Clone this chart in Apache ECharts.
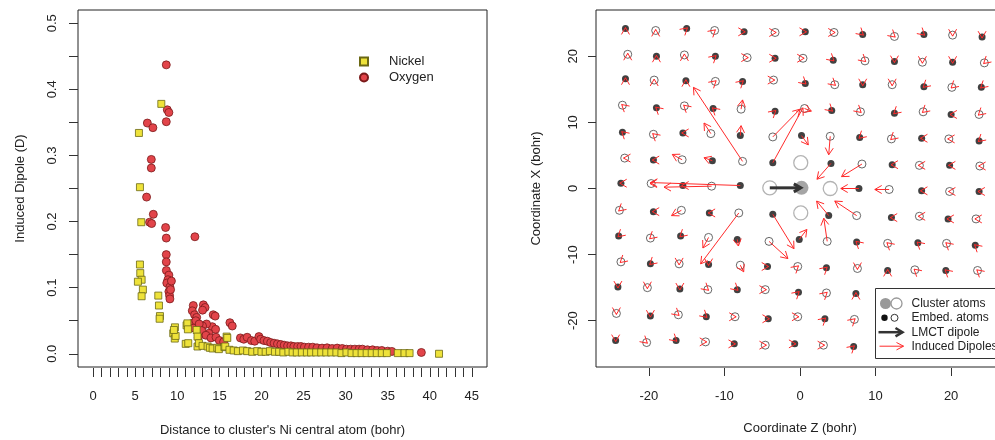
<!DOCTYPE html>
<html><head><meta charset="utf-8">
<script src="https://cdn.jsdelivr.net/npm/echarts@6/dist/echarts.min.js"></script>
<style>html,body{margin:0;padding:0;background:#fff}#c{width:995px;height:440px}</style>
</head><body><div id="c"></div>
<script>
// ---------- LEFT PANEL DATA: [distance (bohr), induced dipole (D)] ----------
var nickel = [
[5.44,0.334],[8.10,0.378],[5.56,0.252],[5.72,0.199],[5.56,0.135],[5.60,0.122],[5.76,0.112],[5.32,0.109],[5.91,0.097],[5.76,0.087],
[7.74,0.088],[7.82,0.073],[7.94,0.057],[7.90,0.053],
[9.72,0.040],[9.52,0.031],[9.70,0.023],[9.80,0.027],[9.60,0.036],
[11.10,0.043],[11.20,0.046],[11.26,0.037],[12.30,0.036],[12.40,0.026],[11.00,0.015],[11.30,0.016],[12.40,0.011],[12.57,0.016],
[13.0,0.012],[13.6,0.011],[13.87,0.009],[14.2,0.008],[14.75,0.009],[14.94,0.007],[15.6,0.010],[15.7,0.011],[15.86,0.026],[15.94,0.024],[16.2,0.006],[16.7,0.005],
[17.2,0.004],[17.8,0.005],[18.3,0.004],[18.9,0.003],[19.5,0.004],[20.0,0.003],[20.5,0.003],[21.0,0.004],[21.6,0.003],[22.1,0.003],
[22.6,0.002],[23.2,0.003],[23.7,0.002],[24.2,0.002],[24.8,0.002],[25.4,0.002],[25.9,0.002],[26.5,0.002],[27.1,0.002],[27.7,0.002],
[28.3,0.002],[28.9,0.002],[29.5,0.001],[30.1,0.002],[30.7,0.001],[31.3,0.001],[31.9,0.001],[32.5,0.001],[33.1,0.001],[33.7,0.001],
[34.3,0.001],[34.9,0.001],[36.2,0.001],[37.0,0.001],[37.6,0.001],[41.1,0.0]
];
var oxygen = [
[8.69,0.437],[8.81,0.369],[9.00,0.365],[8.69,0.351],[6.44,0.349],[7.10,0.342],[6.91,0.294],[6.91,0.281],[6.35,0.237],[7.15,0.211],
[6.71,0.199],[6.95,0.197],[8.61,0.191],[8.69,0.175],[12.09,0.177],[8.69,0.150],[8.69,0.139],[8.70,0.126],[9.00,0.119],[8.88,0.112],
[8.75,0.107],[9.12,0.101],[9.00,0.094],[9.08,0.088],[9.12,0.083],[9.20,0.097],[9.30,0.110],
[11.90,0.073],[13.10,0.074],[13.30,0.070],[11.78,0.065],[13.00,0.066],[12.05,0.059],[12.30,0.055],[14.27,0.059],[14.50,0.057],
[16.25,0.047],[16.53,0.042],[14.15,0.041],[13.48,0.045],[14.55,0.037],[13.00,0.042],[13.75,0.031],[11.78,0.046],[11.97,0.039],
[12.20,0.050],[12.60,0.045],[12.90,0.035],[13.40,0.028],[14.00,0.024],[14.60,0.025],[15.00,0.020],[15.50,0.018],[12.50,0.025],
[17.5,0.024],[17.9,0.022],[18.3,0.025],[18.8,0.020],[19.2,0.019],[19.7,0.026],[19.9,0.022],[20.3,0.020],[20.7,0.019],[21.1,0.017],
[21.5,0.016],[21.9,0.015],[22.3,0.014],[22.7,0.013],[23.1,0.012],[23.5,0.012],[23.85,0.011],[24.3,0.011],[24.7,0.011],[25.1,0.010],
[25.6,0.010],[26.1,0.010],[26.6,0.009],[27.2,0.0086],[27.8,0.009],[28.4,0.008],[29.0,0.0086],[29.6,0.008],[30.1,0.007],[30.6,0.007],
[31.1,0.007],[31.6,0.007],[32.0,0.007],[32.6,0.006],[33.2,0.006],[33.75,0.005],[34.3,0.005],[35.0,0.004],[35.5,0.0035],[39.0,0.002]
];
var xTickLabelsLeft = [0,5,10,15,20,25,30,35,40,45];

// ---------- RIGHT PANEL DATA ----------
// embedded atoms: [Z, X, kind (1 = filled, 0 = open), dipole dZ, dipole dX]  (bohr)
var embedAtoms = [
[-23.1,24.2,1,0,0.15],[-19.1,23.9,0,0,0.15],[-15.0,24.2,1,0.1,0.1],[-11.3,23.9,0,0.1,0.1],[-7.4,23.7,1,0.15,0],[-3.3,23.6,0,0.15,0],[0.7,23.7,1,0.15,0],[4.5,23.6,0,0.15,0],[8.3,23.3,1,0.1,-0.1],[12.5,23.0,0,0.1,-0.1],[16.4,23.3,1,0.1,-0.1],[20.2,23.2,0,0,-0.15],[24.1,22.9,1,0,-0.15],
[-22.8,20.3,0,0,0.15],[-19.0,20.0,1,0,0.15],[-15.3,20.2,0,0,0.15],[-11.2,20.0,1,0.1,0.1],[-7.0,19.8,0,0.15,0],[-3.3,19.7,1,0.15,0],[0.4,19.7,0,0.15,0],[4.4,19.4,1,0.1,-0.1],[8.6,19.3,0,0.1,-0.1],[12.5,19.2,1,0,-0.15],[16.2,19.1,0,0,-0.15],[20.2,19.1,1,0,-0.15],[24.4,19.0,0,-0.1,-0.1],
[-23.1,16.6,1,0,0.15],[-19.3,16.4,0,0,0.15],[-15.1,16.3,1,0,0.15],[-11.2,16.2,0,0.1,0.1],[-7.6,16.2,1,0.1,0.1],[-3.5,16.4,0,0.15,0],[0.7,15.9,1,0.1,-0.1],[4.6,15.7,0,0.1,-0.1],[8.3,15.7,1,0,-0.15],[12.2,15.7,0,0,-0.15],[16.4,15.4,1,-0.1,-0.1],[20.1,15.3,0,-0.1,-0.1],[24.0,15.3,1,-0.1,-0.1],
[-23.5,12.6,0,-0.1,0.1],[-19.0,12.2,1,-0.1,0.1],[-15.3,12.5,0,-0.1,0.1],[-11.5,12.1,1,-0.1,0.1],[-7.8,12.0,0,0.2,1.4],[-3.3,11.7,1,0.1,0.1],[0.6,12.1,0,0.9,-0.4],[4.2,11.8,1,0.1,-0.1],[8.0,11.6,0,0.1,-0.1],[12.5,11.4,1,-0.1,-0.1],[16.3,11.6,0,-0.1,-0.1],[20.0,11.2,1,-0.15,0],[23.7,11.2,0,-0.1,-0.1],
[-23.5,8.5,1,-0.1,0.1],[-19.4,8.2,0,-0.1,0.1],[-15.5,8.4,1,-0.15,0],[-11.8,8.3,0,-0.9,1.6],[-7.9,8.0,1,0.1,1.5],[-3.6,7.8,0,3.6,4.2],[0.2,8.0,1,0.9,-1.4],[4.0,7.9,0,-0.2,-2.8],[7.9,7.7,1,-0.1,-0.1],[12.1,7.5,0,-0.1,-0.1],[16.1,7.6,1,-0.15,0],[19.7,7.5,0,-0.15,0],[23.7,7.2,1,-0.1,-0.1],
[-23.2,4.6,0,-0.15,0],[-19.4,4.3,1,-0.15,0],[-15.6,4.35,0,-1.3,0.8],[-11.6,4.2,1,-1.1,0.45],[-7.6,4.1,0,-6.5,11.2],[-3.6,3.9,1,4.0,8.3],[4.1,3.8,1,-1.85,-2.4],[8.2,3.7,0,-2.7,-1.9],[12.2,3.6,1,-0.15,0],[15.8,3.5,0,-0.15,0],[19.8,3.5,1,-0.15,0],[23.8,3.4,0,-0.15,0],
[-23.7,0.8,1,-0.15,0],[-19.7,0.75,0,-0.15,0],[-15.5,0.45,1,-0.15,0],[-11.7,0.35,0,-6.3,-0.15],[-7.9,0.45,1,-11.9,0.45],[7.8,0,1,-2.4,0],[11.8,-0.15,0,-1.9,0],[16.1,-0.35,1,-0.15,0],[19.8,-0.45,0,-0.15,0],[23.7,-0.45,1,-0.15,0],
[-23.9,-3.3,0,-0.1,-0.1],[-19.4,-3.5,1,-0.15,0],[-15.7,-3.3,0,-1.3,-0.8],[-12.0,-3.7,1,-0.15,0],[-8.1,-3.7,0,-5.05,-7.7],[-3.6,-3.9,1,2.8,-5.2],[3.8,-4.1,1,-1.6,2.2],[7.5,-4.1,0,-2.9,2.2],[12.1,-4.4,1,-0.15,0],[15.8,-4.2,0,-0.15,0],[19.6,-4.6,1,-0.15,0],[23.3,-4.6,0,-0.15,0],
[-24.0,-7.2,1,-0.1,-0.1],[-19.8,-7.5,0,-0.1,-0.1],[-15.8,-7.2,1,-0.1,-0.1],[-12.1,-7.4,0,-0.75,-1.6],[-8.3,-7.7,1,0.15,-1.0],[-4.1,-8.0,0,2.5,-2.6],[-0.1,-7.7,1,1.0,1.5],[3.6,-8.0,0,-0.45,3.5],[7.5,-8.1,1,-0.1,0.1],[11.6,-8.3,0,-0.1,0.1],[15.6,-8.2,1,-0.1,0.1],[19.4,-8.3,0,-0.1,0.1],[23.2,-8.6,1,-0.1,0.1],
[-23.7,-11.1,0,-0.1,-0.1],[-19.8,-11.4,1,-0.1,-0.1],[-16.0,-11.4,0,0,-0.15],[-12.1,-11.5,1,0,-0.15],[-7.9,-11.6,0,0.45,-1.0],[-4.3,-11.8,1,0.15,0],[-0.3,-11.8,0,0.1,0.1],[3.5,-12.0,1,0.1,0.1],[7.6,-12.1,0,0,-0.15],[11.6,-12.4,1,0,0.15],[15.2,-12.3,0,-0.1,0.1],[19.3,-12.4,1,-0.1,0.1],[23.5,-12.4,0,-0.1,0.1],
[-24.1,-14.9,1,0,-0.15],[-20.2,-15.0,0,0,-0.15],[-15.9,-15.2,1,0,-0.15],[-12.2,-15.3,0,0.1,-0.1],[-8.3,-15.3,1,0.1,-0.1],[-4.6,-15.3,0,0.15,0],[-0.2,-15.7,1,0.1,0.1],[3.5,-15.8,0,0.1,0.1],[7.4,-15.9,1,0,0.15],
[-24.3,-18.9,0,0,-0.15],[-19.8,-19.3,1,0,-0.15],[-16.1,-19.1,0,0.1,-0.1],[-12.4,-19.4,1,0.1,-0.1],[-8.6,-19.4,0,0.15,0],[-4.2,-19.7,1,0.15,0],[-0.3,-19.4,0,0.15,0],[3.3,-19.7,1,0.1,0.1],[7.2,-19.8,0,0.1,0.1],
[-24.4,-23.0,1,0,-0.15],[-20.3,-23.3,0,0.1,-0.1],[-16.4,-23.0,1,0.1,-0.1],[-12.5,-23.2,0,0.15,0],[-8.7,-23.5,1,0.15,0],[-4.6,-23.7,0,0.15,0],[-0.7,-23.5,1,0.15,0],[3.1,-23.7,0,0.15,0],[7.1,-23.9,1,0.1,0.1]
];
var clusterNi = [[0.2,0.1]];
var clusterO = [[-4.0,0.1],[4.0,0.0],[0.1,3.9],[0.1,-3.7]];
var lmctDipole = [[-4.0,0.1,4.1,0]];   // [Z, X, dZ, dX]
var rightTicks = [-20,-10,0,10,20];

// ---------- derived ----------
var embedFilled = embedAtoms.filter(function(a){return a[2]===1;}).map(function(a){return [a[0],a[1]];});
var embedOpen = embedAtoms.filter(function(a){return a[2]===0;}).map(function(a){return [a[0],a[1]];});
var inducedDipoles = embedAtoms.map(function(a){return [a[0],a[1],a[3],a[4]];});

// ---------- layout ----------
var FONT = '"Liberation Sans", Arial, Helvetica, sans-serif';
var TXT = '#222';
var frameL = {left:78, top:10, width:409, height:357};
var frameR = {left:596, top:10, width:408, height:357};
var fLx = [-1.8, 46.8], fLy = [-0.02, 0.52];
var fRx = [-27, 27], fRy = [-27, 27];
function inner(frame, fx, fy, ix, iy) {
  var sx = frame.width/(fx[1]-fx[0]), sy = frame.height/(fy[1]-fy[0]);
  return {left: frame.left + (ix[0]-fx[0])*sx, width:(ix[1]-ix[0])*sx,
          top: frame.top + (fy[1]-iy[1])*sy, height:(iy[1]-iy[0])*sy,
          offX: (iy[0]-fy[0])*sy + 1, offY: (ix[0]-fx[0])*sx};
}
var inL = inner(frameL, fLx, fLy, [xTickLabelsLeft[0], xTickLabelsLeft[xTickLabelsLeft.length-1]], [0, 0.5]);
var inR = inner(frameR, fRx, fRy, [rightTicks[0], rightTicks[rightTicks.length-1]], [rightTicks[0], rightTicks[rightTicks.length-1]]);

function grid(g, show) {
  return {left:g.left, top:g.top, width:g.width, height:g.height, show:show,
    borderColor:'#222', borderWidth:1, backgroundColor:'transparent', containLabel:false, outerBoundsMode:'none'};
}
function hiddenAxis(gi, r) { return {gridIndex:gi, type:'value', min:r[0], max:r[1], show:false}; }
var tickStyle = {color:'#333', width:1};
var ghostLine = {show:true, onZero:false, lineStyle:{color:'rgba(0,0,0,0)', width:0}};
function arrowRenderer(color, width, head) {
  return function (params, api) {
    var p0 = api.coord([api.value(0), api.value(1)]);
    var p1 = api.coord([api.value(0) + api.value(2), api.value(1) + api.value(3)]);
    var ang = Math.atan2(p1[1]-p0[1], p1[0]-p0[0]);
    var a = Math.PI/6;
    var h1 = [p1[0]-head*Math.cos(ang-a), p1[1]-head*Math.sin(ang-a)];
    var h2 = [p1[0]-head*Math.cos(ang+a), p1[1]-head*Math.sin(ang+a)];
    return {type:'group', children:[
      {type:'line', shape:{x1:p0[0],y1:p0[1],x2:p1[0],y2:p1[1]}, style:{stroke:color, lineWidth:width}},
      {type:'polyline', shape:{points:[h1,p1,h2]}, style:{stroke:color, lineWidth:width, fill:null}}
    ]};
  };
}

var chart = echarts.init(document.getElementById('c'), null, {renderer:'canvas'});
chart.setOption({
  animation:false,
  backgroundColor:'#fff',
  textStyle:{fontFamily:FONT},
  grid:[grid(frameL,true), grid(inL,false), grid(frameR,true), grid(inR,false)],
  xAxis:[
    hiddenAxis(0, fLx),
    {gridIndex:1, type:'value', min:0, max:45, interval:5, position:'bottom', offset:inL.offX,
     axisLine:ghostLine, axisTick:{show:true, length:9, lineStyle:tickStyle},
     minorTick:{show:true, splitNumber:5, length:9, lineStyle:tickStyle},
     splitLine:{show:false}, minorSplitLine:{show:false},
     axisLabel:{margin:22, fontSize:13, color:TXT, fontFamily:FONT},
     name:"Distance to cluster's Ni central atom (bohr)", nameLocation:'middle', nameGap:56,
     nameTextStyle:{fontSize:13, color:TXT, fontFamily:FONT}},
    hiddenAxis(2, fRx),
    {gridIndex:3, type:'value', min:-20, max:20, interval:10, position:'bottom', offset:inR.offX,
     axisLine:ghostLine, axisTick:{show:true, length:8, lineStyle:tickStyle},
     splitLine:{show:false},
     axisLabel:{margin:22, fontSize:13, color:TXT, fontFamily:FONT},
     name:'Coordinate Z (bohr)', nameLocation:'middle', nameGap:54,
     nameTextStyle:{fontSize:13, color:TXT, fontFamily:FONT}}
  ],
  yAxis:[
    hiddenAxis(0, fLy),
    {gridIndex:1, type:'value', min:0, max:0.5, interval:0.1, position:'left', offset:inL.offY,
     axisLine:ghostLine, axisTick:{show:true, length:9, lineStyle:tickStyle},
     minorTick:{show:true, splitNumber:2, length:9, lineStyle:tickStyle},
     splitLine:{show:false}, minorSplitLine:{show:false},
     axisLabel:{rotate:90, margin:19, fontSize:13, color:TXT, fontFamily:FONT,
       formatter:function(v){return v.toFixed(1);}},
     name:'Induced Dipole (D)', nameLocation:'middle', nameGap:51,
     nameTextStyle:{fontSize:13, color:TXT, fontFamily:FONT}},
    hiddenAxis(2, fRy),
    {gridIndex:3, type:'value', min:-20, max:20, interval:10, position:'left', offset:inR.offY,
     axisLine:ghostLine, axisTick:{show:true, length:8, lineStyle:tickStyle},
     splitLine:{show:false},
     axisLabel:{rotate:90, margin:16, fontSize:13, color:TXT, fontFamily:FONT},
     name:'Coordinate X (bohr)', nameLocation:'middle', nameGap:53,
     nameTextStyle:{fontSize:13, color:TXT, fontFamily:FONT}}
  ],
  legend:{data:['Nickel','Oxygen'], orient:'vertical', left:354, top:50, itemWidth:8, itemHeight:8, itemGap:3,
    selectedMode:false, textStyle:{fontSize:13, color:TXT, fontFamily:FONT, padding:[0,0,0,16]}},
  graphic:[{type:'group', left:875, top:288, z:100, children:[
    {type:'rect', shape:{x:0,y:0,width:140,height:70}, style:{fill:'#fff', stroke:'#333', lineWidth:1}},
    {type:'circle', shape:{cx:10,cy:15,r:5.5}, style:{fill:'#999'}},
    {type:'circle', shape:{cx:21,cy:15,r:5.5}, style:{fill:'#fff', stroke:'#999', lineWidth:1.3}},
    {type:'text', x:36, y:15, style:{text:'Cluster atoms', font:'12px '+FONT, fill:TXT, verticalAlign:'middle'}},
    {type:'circle', shape:{cx:9,cy:29.3,r:3.2}, style:{fill:'#111'}},
    {type:'circle', shape:{cx:19,cy:29.3,r:3.5}, style:{fill:'#fff', stroke:'#333', lineWidth:1}},
    {type:'text', x:36, y:29.3, style:{text:'Embed. atoms', font:'12px '+FONT, fill:TXT, verticalAlign:'middle'}},
    {type:'line', shape:{x1:3,y1:43.7,x2:27,y2:43.7}, style:{stroke:'#333', lineWidth:2.5}},
    {type:'polyline', shape:{points:[[20,39.5],[27,43.7],[20,47.9]]}, style:{stroke:'#333', lineWidth:2.5, fill:null}},
    {type:'text', x:36, y:43.7, style:{text:'LMCT dipole', font:'12px '+FONT, fill:TXT, verticalAlign:'middle'}},
    {type:'line', shape:{x1:4,y1:57.7,x2:28,y2:57.7}, style:{stroke:'#ff2a2a', lineWidth:1}},
    {type:'polyline', shape:{points:[[21,54],[28,57.7],[21,61.4]]}, style:{stroke:'#ff2a2a', lineWidth:1, fill:null}},
    {type:'text', x:36, y:57.7, style:{text:'Induced Dipoles', font:'12px '+FONT, fill:TXT, verticalAlign:'middle'}}
  ]}],
  series:[
    {name:'Oxygen', type:'scatter', xAxisIndex:0, yAxisIndex:0, data:oxygen, symbol:'circle', symbolSize:8,
     itemStyle:{color:'#e2444a', borderColor:'#7a1a1a', borderWidth:0.8, opacity:1}, z:2, clip:false},
    {name:'Nickel', type:'scatter', xAxisIndex:0, yAxisIndex:0, data:nickel, symbol:'rect', symbolSize:7,
     itemStyle:{color:'#eee23a', borderColor:'#6b6814', borderWidth:0.8, opacity:1}, z:3, clip:false},
    {type:'scatter', xAxisIndex:2, yAxisIndex:2, data:embedOpen, symbol:'circle', symbolSize:8,
     itemStyle:{color:'rgba(255,255,255,0)', borderColor:'#444', borderWidth:1}, z:2, clip:false},
    {type:'scatter', xAxisIndex:2, yAxisIndex:2, data:embedFilled, symbol:'circle', symbolSize:7,
     itemStyle:{color:'#111'}, z:2, clip:false},
    {type:'scatter', xAxisIndex:2, yAxisIndex:2, data:clusterO, symbol:'circle', symbolSize:14,
     itemStyle:{color:'#fff', borderColor:'#a0a0a0', borderWidth:1.3}, z:3, clip:false},
    {type:'scatter', xAxisIndex:2, yAxisIndex:2, data:clusterNi, symbol:'circle', symbolSize:14,
     itemStyle:{color:'#8e8e8e'}, z:3, clip:false},
    {type:'custom', xAxisIndex:2, yAxisIndex:2, data:inducedDipoles, encode:{x:0, y:1},
     renderItem:arrowRenderer('#ff2a2a', 1, 8), z:5, silent:true},
    {type:'custom', xAxisIndex:2, yAxisIndex:2, data:lmctDipole, encode:{x:0, y:1},
     renderItem:arrowRenderer('#333', 3, 8), z:6, silent:true}
  ]
});
</script></body></html>
